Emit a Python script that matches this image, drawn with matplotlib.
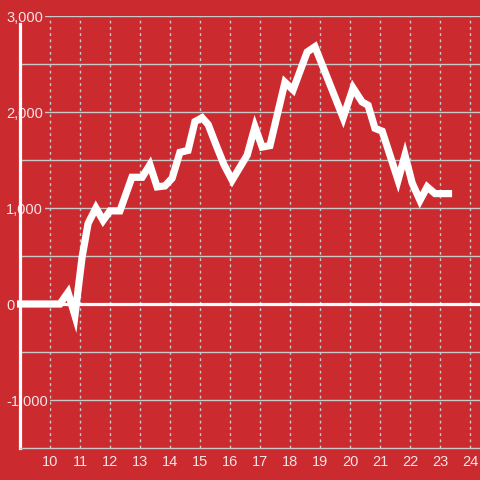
import matplotlib.pyplot as plt

# values
hours = [8.9, 10.33, 10.6, 10.83, 11.07, 11.27, 11.53, 11.77, 12.0, 12.33,
         12.73, 13.07, 13.33, 13.57, 13.83, 14.07, 14.33, 14.6, 14.83, 15.07,
         15.27, 15.53, 15.8, 16.07, 16.57, 16.83, 17.07, 17.33, 17.83, 18.1,
         18.57, 18.83, 19.77, 20.1, 20.4, 20.6, 20.83, 21.07, 21.6, 21.83,
         22.07, 22.33, 22.57, 22.83, 23.4]
values = [0, 0, 120, -120, 490, 840, 1000, 870, 970, 970,
          1320, 1320, 1450, 1220, 1230, 1310, 1580, 1600, 1900, 1940,
          1870, 1660, 1450, 1290, 1550, 1845, 1635, 1650, 2310, 2230,
          2625, 2680, 1940, 2250, 2105, 2070, 1830, 1800, 1290, 1550,
          1260, 1080, 1220, 1150, 1150]

x_ticks = list(range(10, 25))
y_ticks = [-1000, 0, 1000, 2000, 3000]
y_tick_labels = ['-1,000', '0', '1,000', '2,000', '3,000']

bg = '#cb2a2f'
grid_col = '#c9c9c9'
text_col = '#f6e4e4'

plt.rcParams['font.family'] = ['Liberation Sans', 'DejaVu Sans']

fig = plt.figure(figsize=(4.8, 4.8), dpi=100, facecolor=bg)
ax = fig.add_axes([20 / 480, 1 - 448 / 480, 1 - 20 / 480, (448 - 16) / 480])
ax.set_facecolor(bg)

ax.set_xlim(9.0, 24.33)
ax.set_ylim(-1500, 3000)

# grid: solid horizontal every 500, dotted vertical every hour
for v in range(-1000, 3001, 500):
    if v != 0:
        ax.axhline(v, color=grid_col, lw=1, zorder=1)
for h in x_ticks:
    ax.axvline(h, color=grid_col, lw=1, ls=(0, (2, 2.5)), zorder=1)

ax.axhline(0, color='white', lw=2.3, zorder=2.1)

line, = ax.plot(hours, values, color='white', lw=5.2, solid_joinstyle='miter',
                solid_capstyle='butt', zorder=2.2)
line.set_clip_on(False)

for s in ['top', 'right']:
    ax.spines[s].set_visible(False)
ax.spines['bottom'].set_color(grid_col)
ax.spines['bottom'].set_linewidth(1)
ax.spines['left'].set_color('white')
ax.spines['left'].set_linewidth(2.3)
ax.spines['left'].set_bounds(-1500, 2917)

ax.set_xticks(x_ticks)
ax.set_xticklabels([str(h) for h in x_ticks])
ax.set_yticks(y_ticks)
ax.set_yticklabels(y_tick_labels)
ax.tick_params(axis='x', length=0, pad=5, labelsize=10.5, labelcolor=text_col)
ax.tick_params(axis='y', length=0, pad=10, labelsize=10.5, labelcolor=text_col)
for lbl in ax.get_yticklabels():
    lbl.set_horizontalalignment('left')
    lbl.set_bbox(dict(facecolor=bg, edgecolor='none', pad=1.5))

plt.savefig('out.png', dpi=100, facecolor=bg)
plt.close()
